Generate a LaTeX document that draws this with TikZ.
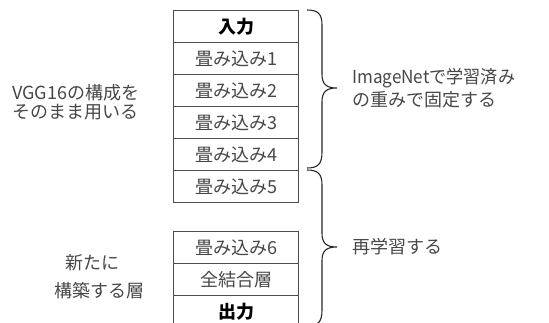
\documentclass[tikz,border=0pt]{standalone}
\usepackage{fontspec}
\setmainfont{Noto Sans CJK JP}
\begin{document}
\begin{tikzpicture}[x=1pt,y=-1pt,
  layer/.style={draw=black!70,line width=1.1pt,minimum width=125pt,minimum height=32pt,inner sep=0pt,anchor=north west,text=black!72,font=\fontsize{18}{20}\selectfont},
  io/.style={layer,text=black,font=\fontsize{18}{20}\selectfont\bfseries},
  lbl/.style={text=black!72,font=\fontsize{18}{20}\selectfont,inner sep=0pt},
  brc/.style={draw=black!85,line width=1.1pt}]
\useasboundingbox (0,0) rectangle (549,322);
\clip (0,0) rectangle (549,322);
\node[io] (in) at (173,10) {入力};
\node[layer] (c1) at (173,42) {畳み込み1};
\node[layer] (c2) at (173,74) {畳み込み2};
\node[layer] (c3) at (173,106) {畳み込み3};
\node[layer] (c4) at (173,138) {畳み込み4};
\node[layer] (c5) at (173,170) {畳み込み5};
\node[layer] (c6) at (173,231) {畳み込み6};
\node[layer] (fc) at (173,263) {全結合層};
\node[io] (out) at (173,295) {出力};
% braces
\coordinate (b1t) at (307,10);
\coordinate (b1m) at (337,88);
\coordinate (b1b) at (307,168);
\draw[brc] (b1t) .. controls (318,10) and (322,14) .. (322,25) -- (322,74)
  .. controls (322,84) and (326,88) .. (b1m)
  .. controls (326,88) and (322,92) .. (322,102) -- (322,152)
  .. controls (322,164) and (318,168) .. (b1b);
\coordinate (b2t) at (307,170);
\coordinate (b2m) at (337,247);
\coordinate (b2b) at (307,326);
\draw[brc] (b2t) .. controls (318,170) and (322,174) .. (322,185) -- (322,233)
  .. controls (322,243) and (326,247) .. (b2m)
  .. controls (326,247) and (322,251) .. (322,261) -- (322,310)
  .. controls (322,322) and (318,326) .. (b2b);
% texts
\node[lbl,anchor=west] (l1) at (12,93) {VGG16の構成を};
\node[lbl,anchor=west] (l2) at (12,112) {そのまま用いる};
\node[lbl] (n1) at (92,263) {新たに};
\node[lbl] (n2) at (99,291) {構築する層};
\node[lbl,anchor=west,xscale=0.95] (r1) at (352,78) {ImageNetで学習済み};
\node[lbl,anchor=west] (r2) at (352,100) {の重みで固定する};
\node[lbl,anchor=west] (r3) at (352,247) {再学習する};
\end{tikzpicture}
\end{document}
